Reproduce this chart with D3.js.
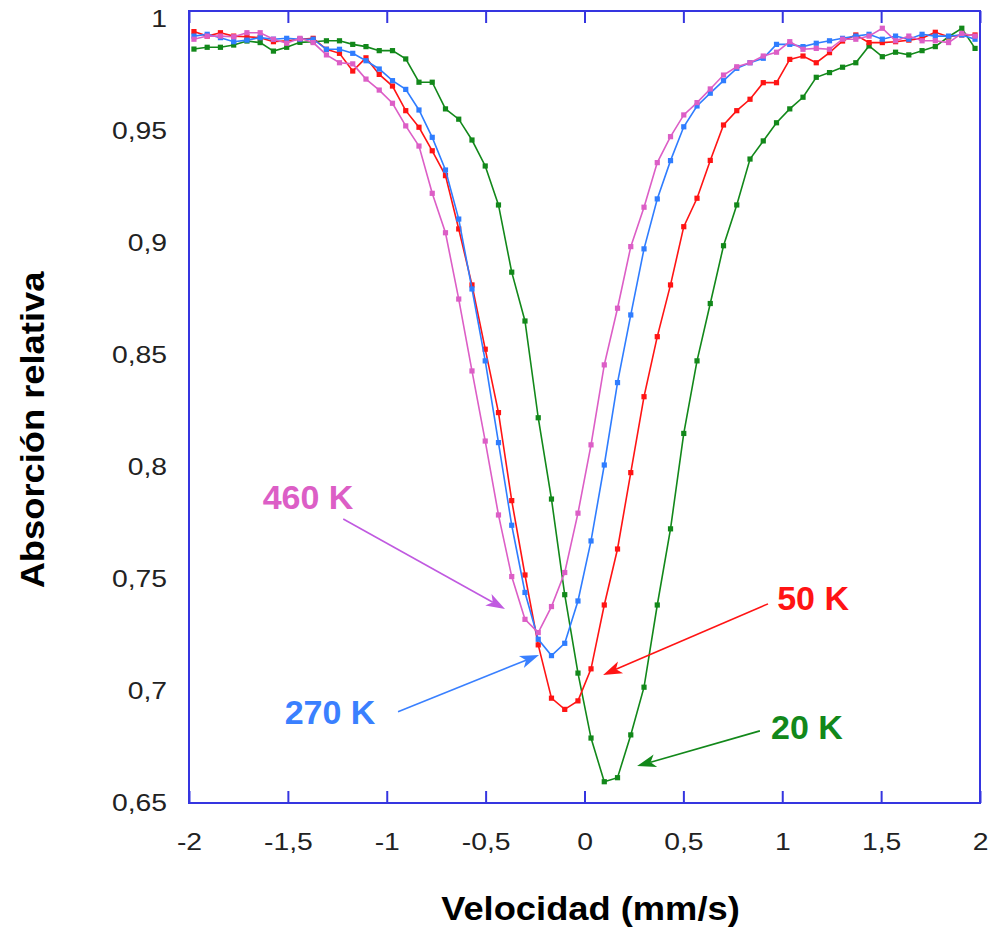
<!DOCTYPE html>
<html>
<head>
<meta charset="utf-8">
<script src="https://cdn.jsdelivr.net/npm/d3@7"></script>
<style>
  html, body { margin: 0; padding: 0; background: #fff; }
  svg { display: block; font-family: "Liberation Sans", Arial, sans-serif; }
</style>
</head>
<body>
<svg id="chart" width="994" height="931"></svg>
<script>
// velocity channels (mm/s)
var velocity = [
  -1.975, -1.908, -1.841, -1.774, -1.707, -1.640, -1.573, -1.506, -1.439, -1.372,
  -1.305, -1.239, -1.172, -1.105, -1.038, -0.971, -0.904, -0.837, -0.770, -0.703,
  -0.636, -0.569, -0.502, -0.435, -0.368, -0.301, -0.234, -0.167, -0.100, -0.033,
   0.033,  0.100,  0.167,  0.234,  0.301,  0.368,  0.435,  0.502,  0.569,  0.636,
   0.703,  0.770,  0.837,  0.904,  0.971,  1.038,  1.105,  1.172,  1.239,  1.305,
   1.372,  1.439,  1.506,  1.573,  1.640,  1.707,  1.774,  1.841,  1.908,  1.975
];

var abs20K = [
  0.9866, 0.9874, 0.9874, 0.9884, 0.9902, 0.9895, 0.9857, 0.9874, 0.9896, 0.9899,
  0.9903, 0.9903, 0.9887, 0.9877, 0.9859, 0.9859, 0.9822, 0.9718, 0.9718, 0.9599,
  0.9553, 0.9460, 0.9344, 0.9170, 0.8870, 0.8652, 0.8220, 0.7857, 0.7430, 0.7080,
  0.6790, 0.6595, 0.6613, 0.6804, 0.7017, 0.7384, 0.7724, 0.8150, 0.8474, 0.8730,
  0.8988, 0.9170, 0.9375, 0.9456, 0.9537, 0.9599, 0.9651, 0.9740, 0.9761, 0.9785,
  0.9805, 0.9880, 0.9832, 0.9852, 0.9840, 0.9859, 0.9877, 0.9921, 0.9959, 0.9869
];

var abs50K = [
  0.9944, 0.9924, 0.9939, 0.9924, 0.9921, 0.9917, 0.9899, 0.9903, 0.9910, 0.9914,
  0.9865, 0.9847, 0.9768, 0.9827, 0.9753, 0.9701, 0.9591, 0.9517, 0.9412, 0.9301,
  0.9063, 0.8813, 0.8526, 0.8243, 0.7850, 0.7518, 0.7206, 0.6968, 0.6918, 0.6956,
  0.7099, 0.7384, 0.7634, 0.7975, 0.8314, 0.8582, 0.8813, 0.9073, 0.9200, 0.9369,
  0.9527, 0.9591, 0.9642, 0.9716, 0.9716, 0.9820, 0.9835, 0.9805, 0.9850, 0.9902,
  0.9929, 0.9895, 0.9895, 0.9899, 0.9906, 0.9915, 0.9941, 0.9921, 0.9929, 0.9929
];

var abs270K = [
  0.9924, 0.9932, 0.9917, 0.9899, 0.9906, 0.9917, 0.9910, 0.9914, 0.9910, 0.9910,
  0.9865, 0.9865, 0.9847, 0.9814, 0.9777, 0.9725, 0.9686, 0.9594, 0.9472, 0.9326,
  0.9107, 0.8795, 0.8474, 0.8109, 0.7740, 0.7440, 0.7231, 0.7158, 0.7213, 0.7402,
  0.7670, 0.8009, 0.8377, 0.8679, 0.8974, 0.9197, 0.9368, 0.9519, 0.9612, 0.9669,
  0.9725, 0.9780, 0.9805, 0.9825, 0.9887, 0.9887, 0.9877, 0.9892, 0.9903, 0.9914,
  0.9924, 0.9932, 0.9910, 0.9924, 0.9910, 0.9932, 0.9924, 0.9924, 0.9929, 0.9910
];

var abs460K = [
  0.9910, 0.9924, 0.9924, 0.9921, 0.9939, 0.9939, 0.9910, 0.9892, 0.9914, 0.9895,
  0.9840, 0.9805, 0.9800, 0.9732, 0.9683, 0.9624, 0.9523, 0.9433, 0.9222, 0.9046,
  0.8750, 0.8429, 0.8116, 0.7786, 0.7511, 0.7320, 0.7261, 0.7377, 0.7529, 0.7794,
  0.8099, 0.8456, 0.8709, 0.8984, 0.9160, 0.9359, 0.9475, 0.9572, 0.9627, 0.9688,
  0.9750, 0.9787, 0.9805, 0.9835, 0.9852, 0.9899, 0.9865, 0.9869, 0.9865, 0.9910,
  0.9910, 0.9924, 0.9959, 0.9903, 0.9924, 0.9903, 0.9903, 0.9895, 0.9936, 0.9924
];

var xTicks = [-2, -1.5, -1, -0.5, 0, 0.5, 1, 1.5, 2];
var yTicks = [0.65, 0.7, 0.75, 0.8, 0.85, 0.9, 0.95, 1];

// series, drawn in this order
var series = [
  { name: '20 K', values: abs20K, color: '#12881a' },
  { name: '50 K', values: abs50K, color: '#ff1414' },
  { name: '270 K', values: abs270K, color: '#2f7dff' },
  { name: '460 K', values: abs460K, color: '#dc5ec6' }
];

// labels with arrows, in data units: label centre, arrow start, arrow tip
var notes = [
  { text: '460 K', color: '#dc5ec6', arrow: '#c05ae0', lx: -1.398, ly: 0.7866, sx: -1.22, sy: 0.7768, tx: -0.402, ty: 0.7366 },
  { text: '270 K', color: '#3a80ff', arrow: '#3a80ff', lx: -1.287, ly: 0.6907, sx: -0.943, sy: 0.6907, tx: -0.230, ty: 0.7161 },
  { text: '50 K',  color: '#ff1414', arrow: '#ff1414', lx: 1.156, ly: 0.7415, sx: 0.928, sy: 0.7389, tx: 0.094, ty: 0.7072 },
  { text: '20 K',  color: '#12881a', arrow: '#12881a', lx: 1.125, ly: 0.6840, sx: 0.887, sy: 0.6822, tx: 0.266, ty: 0.6665 }
];

var frameColor = '#3535e0';
var margin = { left: 189, right: 14, top: 11, bottom: 128 };
var W = 994, H = 931;
var w = W - margin.left - margin.right;
var h = H - margin.top - margin.bottom;

var svg = d3.select('#chart');
var g = svg.append('g').attr('transform', 'translate(' + margin.left + ',' + margin.top + ')');

var x = d3.scaleLinear().domain([-2, 2]).range([0, w]);
var y = d3.scaleLinear().domain([0.65, 1.0036]).range([h, 0]);

var loc = d3.formatLocale({ decimal: ',', thousands: '.', grouping: [3], currency: ['', ''], minus: '-' });
var fmt = loc.format('~g');

// widen text a little, the reference font runs wider than Arial
function stretch(sel, k) {
  sel.each(function() {
    var len = this.getComputedTextLength();
    d3.select(this).attr('textLength', len * k).attr('lengthAdjust', 'spacingAndGlyphs');
  });
}

// bottom axis: inner ticks + labels
var xb = g.append('g').attr('transform', 'translate(0,' + h + ')')
  .call(d3.axisBottom(x).tickValues(xTicks).tickSizeInner(-12).tickSizeOuter(0).tickPadding(30).tickFormat(fmt));
// top axis: inner ticks only
var xt = g.append('g')
  .call(d3.axisTop(x).tickValues(xTicks).tickSizeInner(-12).tickSizeOuter(0).tickFormat(''));
// left axis: labels only
var yl = g.append('g')
  .call(d3.axisLeft(y).tickValues(yTicks).tickSize(0).tickPadding(22).tickFormat(fmt));

[xb, xt, yl].forEach(function(a) {
  a.select('.domain').remove();
  a.selectAll('.tick line').attr('stroke', frameColor).attr('stroke-width', 2);
  a.selectAll('.tick text').attr('fill', '#222').style('font-size', '24px')
    .style('font-family', '"Liberation Sans", Arial, sans-serif');
});
yl.selectAll('.tick text').call(stretch, 1.18);
xb.selectAll('.tick text').call(stretch, 1.18);

var line = d3.line().x(function(d) { return x(d[0]); }).y(function(d) { return y(d[1]); });

var sg = g.selectAll('g.series').data(series).join('g').attr('class', 'series');
sg.append('path')
  .attr('d', function(s) { return line(d3.zip(velocity, s.values)); })
  .attr('fill', 'none')
  .attr('stroke', function(s) { return s.color; })
  .attr('stroke-width', 1.6);
sg.each(function(s) {
  d3.select(this).selectAll('rect').data(d3.zip(velocity, s.values)).join('rect')
    .attr('x', function(d) { return x(d[0]) - 2.6; })
    .attr('y', function(d) { return y(d[1]) - 2.6; })
    .attr('width', 5.2).attr('height', 5.2)
    .attr('fill', s.color);
});

// frame
g.append('rect').attr('x', 0).attr('y', 0).attr('width', w).attr('height', h)
  .attr('fill', 'none').attr('stroke', frameColor).attr('stroke-width', 2);

// annotations
var ng = g.selectAll('g.note').data(notes).join('g').attr('class', 'note');
ng.each(function(n) {
  var sel = d3.select(this);
  var x1 = x(n.sx), y1 = y(n.sy), x2 = x(n.tx), y2 = y(n.ty);
  var ang = Math.atan2(y2 - y1, x2 - x1);
  var L = 19, hw = 6.5, notch = 5;
  var ca = Math.cos(ang), sa = Math.sin(ang);
  var bx = x2 - L * ca, by = y2 - L * sa;
  var nx = x2 - (L - notch) * ca, ny = y2 - (L - notch) * sa;
  sel.append('line')
    .attr('x1', x1).attr('y1', y1).attr('x2', nx).attr('y2', ny)
    .attr('stroke', n.arrow).attr('stroke-width', 1.6);
  sel.append('path')
    .attr('d', 'M' + x2 + ',' + y2 +
      'L' + (bx - hw * sa) + ',' + (by + hw * ca) +
      'L' + nx + ',' + ny +
      'L' + (bx + hw * sa) + ',' + (by - hw * ca) + 'Z')
    .attr('fill', n.arrow);
  sel.append('text')
    .attr('x', x(n.lx)).attr('y', y(n.ly)).attr('dy', '0.36em')
    .attr('text-anchor', 'middle')
    .style('font-size', '34px').style('font-weight', 'bold')
    .attr('fill', n.color)
    .text(n.text);
});

// axis titles
svg.append('text')
  .attr('x', margin.left + w / 2 + 6).attr('y', 920)
  .attr('text-anchor', 'middle')
  .style('font-size', '33px').style('font-weight', 'bold').attr('fill', '#000')
  .text('Velocidad (mm/s)')
  .call(stretch, 1.1);

svg.append('text')
  .attr('transform', 'translate(32,430) rotate(-90)')
  .attr('dy', '0.36em')
  .attr('text-anchor', 'middle')
  .style('font-size', '33px').style('font-weight', 'bold').attr('fill', '#000')
  .text('Absorción relativa')
  .call(stretch, 1.1);
</script>
</body>
</html>
